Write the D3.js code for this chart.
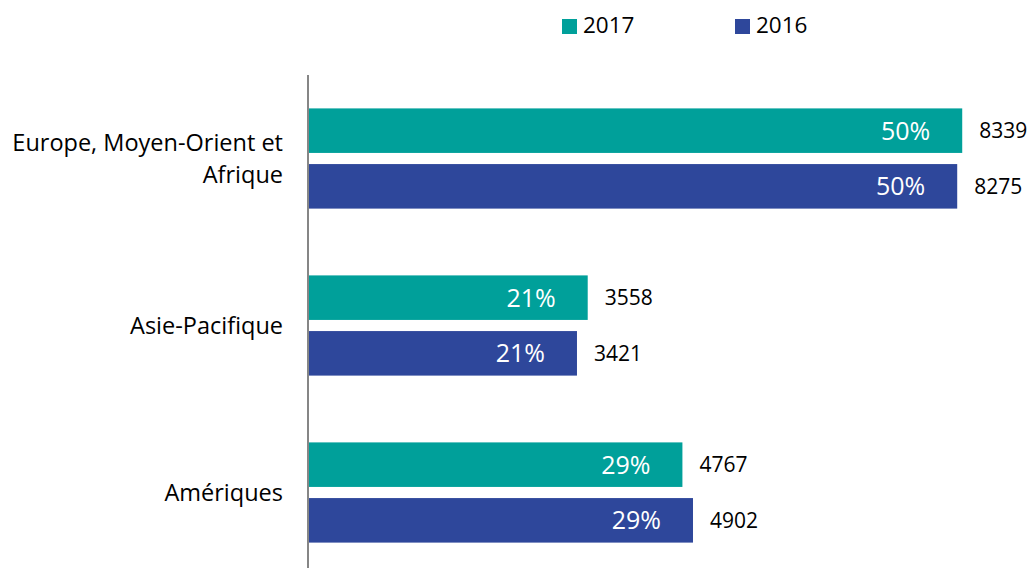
<!DOCTYPE html>
<html lang="fr">
    <head>
        <meta charset="utf-8">
        <title>Répartition par région</title>
        <script type="text/javascript" src="https://cdn.jsdelivr.net/npm/d3@7"></script>
        <style>
            body { margin: 0; background: #fff; }
            text { font-family: "Open Sans", sans-serif; }
        </style>
    </head>
    <body>
        <script type="text/javascript">
            // data
            var categories = [["Europe, Moyen-Orient et", "Afrique"], ["Asie-Pacifique"], ["Amériques"]];
            var seriesNames = ["2017", "2016"];
            var values2017 = [8339, 3558, 4767];
            var values2016 = [8275, 3421, 4902];
            var shares = ["50%", "21%", "29%"];

            var w = 1034;
            var h = 568;
            var colors = { "2017": "#00a09a", "2016": "#2e479b" };

            var svg = d3.select("body").append("svg").attr("width", w).attr("height", h);

            var x = d3.scaleLinear().domain([0, 9000]).range([309, 1014]);

            var y = d3.scaleBand()
                .domain(d3.range(categories.length))
                .range([75, 576]);

            var ySub = d3.scaleBand()
                .domain(seriesNames)
                .range([0, y.bandwidth()])
                .paddingInner(0.2)
                .paddingOuter(0.6);

            var rows = [];
            categories.forEach(function(c, i){
                rows.push({ cat: i, s: "2017", value: values2017[i], share: shares[i] });
                rows.push({ cat: i, s: "2016", value: values2016[i], share: shares[i] });
            });

            // bars
            svg.selectAll("rect.bar")
                .data(rows)
                .enter()
                .append("rect")
                .attr("class", "bar")
                .attr("x", x(0))
                .attr("y", function(d){ return y(d.cat) + ySub(d.s); })
                .attr("width", function(d){ return x(d.value) - x(0); })
                .attr("height", ySub.bandwidth())
                .attr("fill", function(d){ return colors[d.s]; });

            // share labels inside the bars
            svg.selectAll("text.share")
                .data(rows)
                .enter()
                .append("text")
                .attr("class", "share")
                .text(function(d){ return d.share; })
                .attr("x", function(d){ return x(d.value) - 32; })
                .attr("y", function(d){ return y(d.cat) + ySub(d.s) + ySub.bandwidth()/2; })
                .attr("dy", "0.36em")
                .attr("text-anchor", "end")
                .attr("font-size", "25px")
                .attr("fill", "white");

            // value labels
            svg.selectAll("text.val")
                .data(rows)
                .enter()
                .append("text")
                .attr("class", "val")
                .text(function(d){ return d.value; })
                .attr("x", function(d){ return x(d.value) + 17; })
                .attr("y", function(d){ return y(d.cat) + ySub(d.s) + ySub.bandwidth()/2; })
                .attr("dy", "0.36em")
                .attr("font-size", "21px")
                .attr("fill", "#000");

            // category labels
            var catLabels = svg.selectAll("text.cat")
                .data(categories)
                .enter()
                .append("text")
                .attr("class", "cat")
                .attr("text-anchor", "end")
                .attr("font-size", "23.5px")
                .attr("fill", "#000")
                .attr("transform", function(d, i){
                    return "translate(283," + (y(i) + y.bandwidth()/2 + 8 - (d.length - 1) * 16) + ")";
                });
            catLabels.selectAll("tspan")
                .data(function(d){ return d; })
                .enter()
                .append("tspan")
                .attr("x", 0)
                .attr("y", function(d, i){ return i * 32; })
                .text(function(d){ return d; });

            // vertical axis line
            svg.append("line")
                .attr("x1", 308).attr("x2", 308)
                .attr("y1", 75).attr("y2", 576)
                .attr("stroke", "#868686")
                .attr("stroke-width", 2);

            // legend
            var legendX = d3.scalePoint().domain(seriesNames).range([562, 735]);
            var lg = svg.selectAll("g.legend")
                .data(seriesNames)
                .enter()
                .append("g")
                .attr("class", "legend")
                .attr("transform", function(d){ return "translate(" + legendX(d) + ",19)"; });
            lg.append("rect")
                .attr("width", 15).attr("height", 15)
                .attr("fill", function(d){ return colors[d]; });
            lg.append("text")
                .attr("x", 21).attr("y", 14)
                .attr("font-size", "22.5px")
                .text(function(d){ return d; });
        </script>
    </body>
</html>
